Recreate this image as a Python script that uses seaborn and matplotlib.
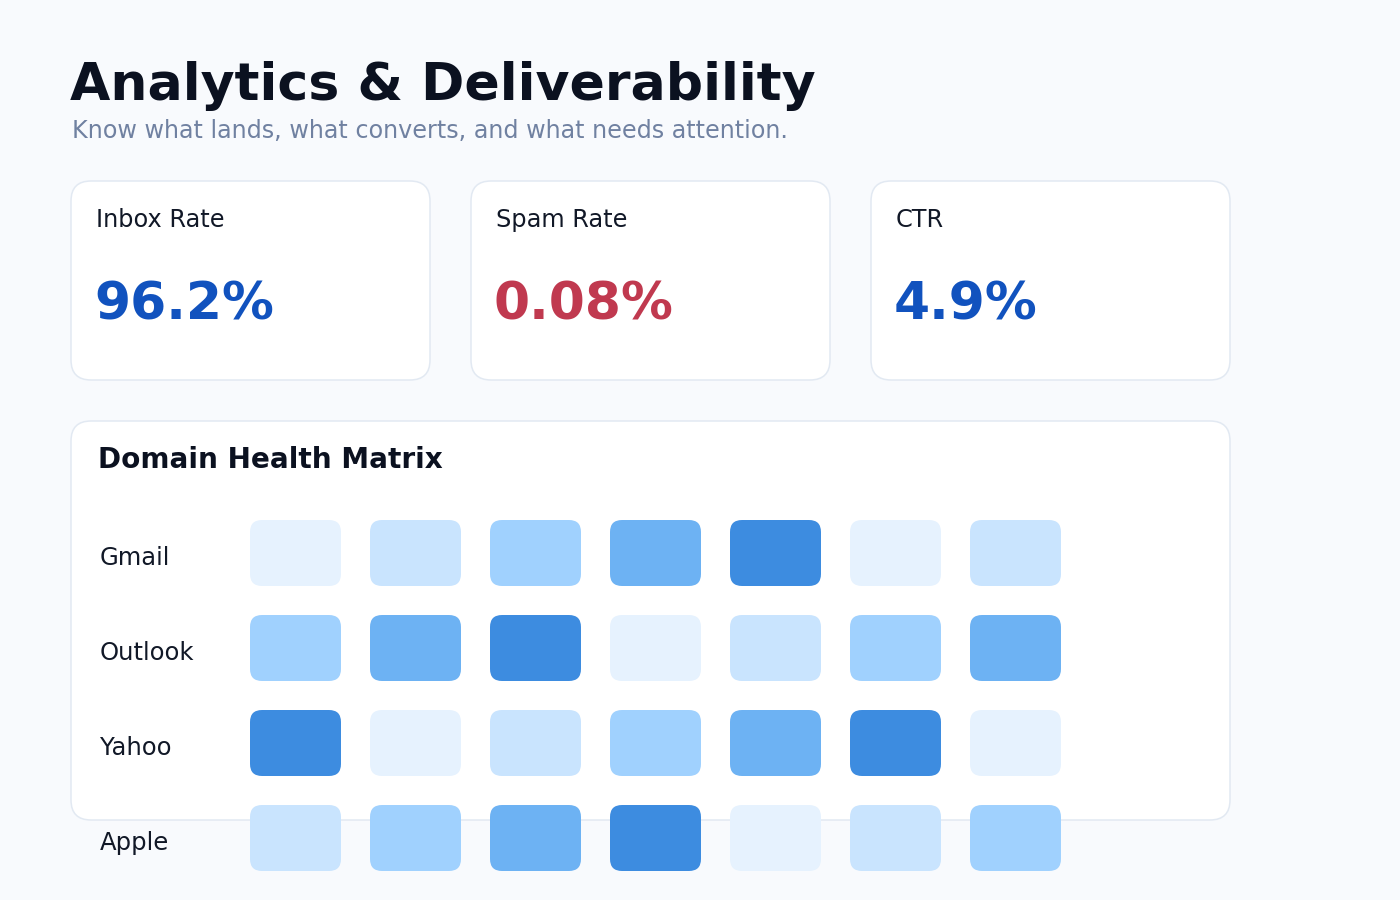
import numpy as np
import pandas as pd
import matplotlib
matplotlib.use("Agg")
import matplotlib.pyplot as plt
import matplotlib.patches as mpatches
import matplotlib.transforms as mtransforms
from matplotlib.path import Path
import seaborn as sns

# --- data ---
title = "Analytics & Deliverability"
subtitle = "Know what lands, what converts, and what needs attention."
kpi_labels = ["Inbox Rate", "Spam Rate", "CTR"]
kpi_values = ["96.2%", "0.08%", "4.9%"]
kpi_colors = ["#1152be", "#c0394f", "#1152be"]

domains = ["Gmail", "Outlook", "Yahoo", "Apple"]
gmail = [0, 1, 2, 3, 4, 0, 1]
outlook = [2, 3, 4, 0, 1, 2, 3]
yahoo = [4, 0, 1, 2, 3, 4, 0]
apple = [1, 2, 3, 4, 0, 1, 2]
level_colors = ["#e6f2fe", "#c9e4fe", "#a0d1fe", "#6db2f3", "#3d8ce0"]

rows = []
for name, vals in zip(domains, [gmail, outlook, yahoo, apple]):
    for j, v in enumerate(vals):
        rows.append({"domain": name, "row": domains.index(name), "col": j, "level": v})
df = pd.DataFrame(rows)

sns.set_theme(style="white")
plt.rcParams["font.family"] = ["DejaVu Sans"]

BG = "#f8fafd"
BORDER = "#e2e9f2"
W, H = 1400, 900
fig = plt.figure(figsize=(14, 9), dpi=100, facecolor=BG)

# background canvas in pixel coords
bg = fig.add_axes([0, 0, 1, 1])
bg.set_xlim(0, W)
bg.set_ylim(H, 0)
bg.axis("off")
bg.set_facecolor(BG)

bg.text(70, 100, title, fontsize=37.5, fontweight="bold", color="#0b1120", va="baseline")
bg.text(72, 138, subtitle, fontsize=17.2, color="#7081a1", va="baseline")

for i, (lab, val, col) in enumerate(zip(kpi_labels, kpi_values, kpi_colors)):
    x0 = 71 + 400 * i
    card = mpatches.FancyBboxPatch((x0, 181), 359, 199,
                                   boxstyle="round,pad=0,rounding_size=20",
                                   fc="white", ec=BORDER, lw=1.1)
    bg.add_patch(card)
    bg.text(x0 + 25, 227, lab, fontsize=17.3, color="#111827", va="baseline")
    bg.text(x0 + 23, 320, val, fontsize=37.4, fontweight="bold", color=col, va="baseline")

panel = mpatches.FancyBboxPatch((71, 421), 1159, 399,
                                boxstyle="round,pad=0,rounding_size=20",
                                fc="white", ec=BORDER, lw=1.1)
bg.add_patch(panel)
bg.text(98, 468, "Domain Health Matrix", fontsize=20.1, fontweight="bold",
        color="#0b1120", va="baseline")

# matrix axes: cell pitch 120 x 95 px
ax = fig.add_axes([235.5 / W, (H - 885.5) / H, 840 / W, 380 / H])
ax.patch.set_alpha(0)
cell_w, cell_h, rad = 91, 66, 12
box = mpatches.BoxStyle.Round(pad=0, rounding_size=rad / cell_w)
marker_path = box(-0.5, -cell_h / cell_w / 2, 1.0, cell_h / cell_w, 1.0)
marker_path = Path(marker_path.vertices, marker_path.codes)
size_pt = cell_w * 72 / 100

sns.scatterplot(data=df, x="col", y="row", hue="level",
                palette={k: c for k, c in enumerate(level_colors)},
                marker=marker_path, s=size_pt ** 2, linewidth=0,
                legend=False, ax=ax, clip_on=False)
ax.set_xlim(-0.5, 6.5)
ax.set_ylim(3.5, -0.5)
ax.set_xlabel("")
ax.set_ylabel("")
ax.set_xticks([])
ax.set_yticks(range(len(domains)), labels=domains)
ax.tick_params(axis="y", length=0, pad=(235.5 - 100) * 72 / 100,
               labelsize=17.5, labelcolor="#111827")
shift = mtransforms.ScaledTranslation(0, -2 / 72, fig.dpi_scale_trans)
for t in ax.get_yticklabels():
    t.set_horizontalalignment("left")
    t.set_transform(t.get_transform() + shift)
for s in ax.spines.values():
    s.set_visible(False)

fig.savefig("out.png", dpi=100, facecolor=BG)
